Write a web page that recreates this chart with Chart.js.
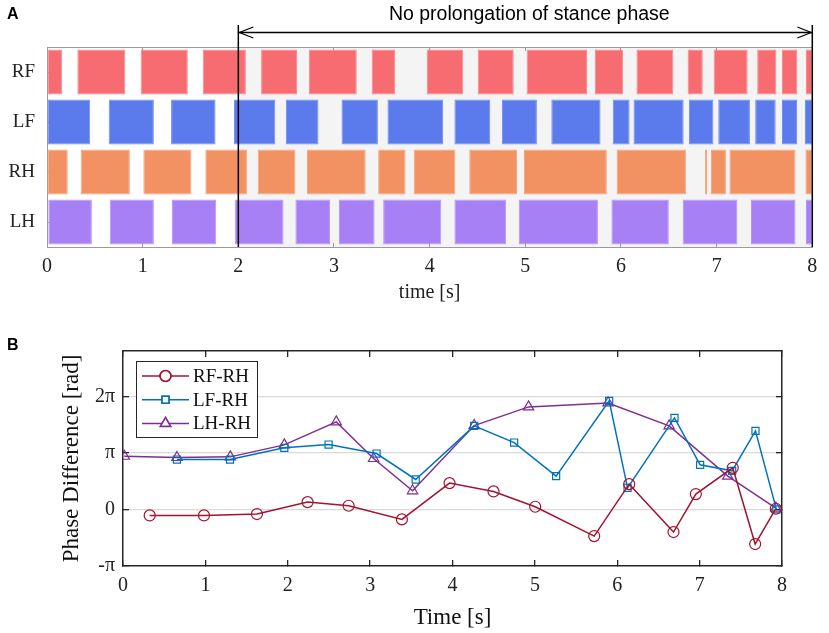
<!DOCTYPE html>
<html><head><meta charset="utf-8">
<script src="https://cdn.jsdelivr.net/npm/chart.js@4.4.0/dist/chart.umd.min.js"></script>
<style>
html,body{margin:0;padding:0;background:#fff;}
#wrap{position:relative;width:829px;height:633px;overflow:hidden;}
canvas{position:absolute;left:0;}
#c1{top:0;}
#c2{top:310px;}
</style></head><body>
<div id="wrap"><canvas id="c1" width="829" height="310"></canvas><canvas id="c2" width="829" height="323"></canvas></div>
<script>
// ---------- Panel A data: stance intervals [start, end] in seconds ----------
const legs = ['RF', 'LF', 'RH', 'LH'];
const RF_stance = [[0,0.159],[0.317,0.817],[0.979,1.472],[1.628,2.079],[2.238,2.614],[2.738,3.238],[3.393,3.641],[3.969,4.352],[4.503,4.879],[5.014,5.645],[5.728,6.021],[6.162,6.548],[6.697,6.855],[6.969,7.324],[7.424,7.624],[7.683,7.841],[7.934,8.0]];
const LF_stance = [[0,0.452],[0.645,1.117],[1.297,1.762],[1.955,2.386],[2.497,2.838],[3.079,3.459],[3.559,4.141],[4.259,4.634],[4.755,5.121],[5.272,5.786],[5.914,6.090],[6.131,6.655],[6.710,6.966],[7.017,7.348],[7.403,7.617],[7.683,7.841],[7.924,8.0]];
const RH_stance = [[0,0.217],[0.352,0.866],[1.007,1.510],[1.655,2.090],[2.203,2.597],[2.717,3.331],[3.462,3.748],[3.834,4.269],[4.414,4.914],[4.986,5.852],[5.955,6.679],[6.879,6.900],[6.941,7.097],[7.134,7.824],[7.928,8.0]];
const LH_stance = [[0.014,0.469],[0.655,1.117],[1.307,1.769],[1.962,2.472],[2.597,2.959],[3.052,3.424],[3.514,4.121],[4.259,4.800],[4.931,5.759],[5.900,6.500],[6.645,7.217],[7.359,7.824],[7.934,8.0]];
const noProlongStart = 2;
const noProlongEnd = 8;
const noProlongText = 'No prolongation of stance phase';

// ---------- Panel B data: phase differences (in units of pi) ----------
const seriesNames = ['RF-RH', 'LF-RH', 'LH-RH'];
const rfTime  = [0.324,0.983,1.626,2.241,2.739,3.386,3.964,4.498,5.004,5.720,6.145,6.683,6.954,7.402,7.674,7.925];
const rfPhase = [-0.106,-0.106,-0.082,0.129,0.065,-0.176,0.465,0.318,0.047,-0.471,0.447,-0.400,0.271,0.735,-0.612,0.012];
const lfTime  = [0.655,1.299,1.958,2.496,3.078,3.553,4.263,4.748,5.258,5.902,6.125,6.695,7.006,7.395,7.678,7.932];
const lfPhase = [0.882,0.882,1.088,1.147,0.988,0.529,1.476,1.182,0.588,1.918,0.382,1.618,0.788,0.682,1.388,0.0];
const lhTime  = [0.016,0.655,1.303,1.958,2.589,3.042,3.515,4.263,4.923,5.889,6.630,7.342,7.925];
const lhPhase = [0.940,0.918,0.929,1.141,1.547,0.900,0.329,1.482,1.812,1.882,1.476,0.588,0.024];
const phaseTickLabels = {'-1':'-π', '0':'0', '1':'π', '2':'2π'};

const SERIF = "'Liberation Serif', 'Times New Roman', serif";
const SANS = "'Liberation Sans', Arial, sans-serif";

// ---------- Panel A ----------
const legFill = {RF:'#f76c70', LF:'#5b7bed', RH:'#f29162', LH:'#a880f6'};
const legEdge = {RF:'#fa8a8d', LF:'#6f8cf5', RH:'#f7a47c', LH:'#b694fa'};
const stanceByLeg = {RF:RF_stance, LF:LF_stance, RH:RH_stance, LH:LH_stance};

const shadePlugin = {
  id: 'shade',
  beforeDraw(chart) {
    const {ctx, chartArea:a, scales:{x}} = chart;
    const x0 = x.getPixelForValue(noProlongStart), x1 = x.getPixelForValue(noProlongEnd);
    ctx.save();
    ctx.fillStyle = '#f4f4f4';
    ctx.fillRect(x0, a.top, x1 - x0, a.bottom - a.top);
    ctx.restore();
  },
  afterDraw(chart) {
    const {ctx, chartArea:a, scales:{x}} = chart;
    const x0 = x.getPixelForValue(noProlongStart), x1 = x.getPixelForValue(noProlongEnd);
    const yTop = 25, yArrow = 32.5;
    ctx.save();
    ctx.strokeStyle = '#000';
    ctx.lineWidth = 1.5;
    ctx.beginPath();
    ctx.moveTo(x0, yTop); ctx.lineTo(x0, a.bottom);
    ctx.moveTo(x1, yTop); ctx.lineTo(x1, a.bottom);
    ctx.moveTo(x0, yArrow); ctx.lineTo(x1, yArrow);
    ctx.stroke();
    ctx.lineWidth = 1.2;
    ctx.beginPath();
    ctx.moveTo(x0 + 15, yArrow - 5.5); ctx.lineTo(x0 + 1, yArrow); ctx.lineTo(x0 + 15, yArrow + 5.5);
    ctx.moveTo(x1 - 15, yArrow - 5.5); ctx.lineTo(x1 - 1, yArrow); ctx.lineTo(x1 - 15, yArrow + 5.5);
    ctx.stroke();
    ctx.fillStyle = '#000';
    ctx.font = '19.5px ' + SANS;
    ctx.textAlign = 'center';
    ctx.textBaseline = 'middle';
    ctx.fillText(noProlongText, (x0 + x1) / 2 + 4, 15);
    ctx.font = 'bold 16px ' + SANS;
    ctx.textAlign = 'left';
    ctx.fillText('A', 7, 15);
    ctx.restore();
  }
};

new Chart(document.getElementById('c1'), {
  type: 'bar',
  data: {
    labels: legs,
    datasets: legs.map(leg => ({
      label: leg,
      data: stanceByLeg[leg].map(([s, e]) => ({y: leg, x: [s, e]})),
      backgroundColor: legFill[leg],
      borderColor: legEdge[leg],
      borderWidth: 1,
      borderSkipped: false,
      grouped: false,
      barPercentage: 0.9,
      categoryPercentage: 1
    }))
  },
  options: {
    indexAxis: 'y',
    responsive: false,
    animation: false,
    layout: {padding: {left: 0, top: 47, right: 8, bottom: 3}},
    plugins: {legend: {display: false}, tooltip: {enabled: false}},
    scales: {
      x: {
        type: 'linear', position: 'bottom', min: 0, max: 8,
        ticks: {stepSize: 1, padding: 11.7, color: '#222', font: {family: SERIF, size: 20}},
        grid: {drawOnChartArea: false, drawTicks: true, tickLength: -4, tickColor: '#9a9a9a'},
        border: {color: '#9a9a9a', width: 1},
        title: {display: true, text: 'time [s]', color: '#222', font: {family: SERIF, size: 20}, padding: {top: 0, bottom: 2}},
        afterFit(s) { s.height = 60; }
      },
      x2: {
        type: 'linear', position: 'top', min: 0, max: 8,
        ticks: {display: false, stepSize: 1},
        grid: {drawOnChartArea: false, tickLength: -4, tickColor: '#9a9a9a'},
        border: {color: '#9a9a9a', width: 1},
        afterFit(s) { s.height = 0; }
      },
      y: {
        type: 'category', position: 'left', offset: true,
        ticks: {padding: 16, color: '#222', font: {family: SERIF, size: 19}},
        grid: {drawOnChartArea: false, offset: false, tickLength: -4, tickColor: '#9a9a9a'},
        border: {color: '#9a9a9a', width: 1},
        afterFit(s) { s.width = 47; }
      }
    }
  },
  plugins: [shadePlugin]
});

// ---------- Panel B ----------
const seriesColor = ['#a2142f', '#0072bd', '#7e2f8e'];
const seriesMarker = ['circle', 'rect', 'triangle'];
const seriesRadius = [5.5, 5, 6];
const seriesX = [rfTime, lfTime, lhTime];
const seriesY = [rfPhase, lfPhase, lhPhase];

const legendPlugin = {
  id: 'boxLegend',
  afterDraw(chart) {
    const {ctx, chartArea:a} = chart;
    const bx = a.left + 13, by = a.top + 10, bw = 121, bh = 76;
    ctx.save();
    ctx.fillStyle = '#fff';
    ctx.fillRect(bx, by, bw, bh);
    ctx.strokeStyle = '#262626';
    ctx.lineWidth = 1;
    ctx.strokeRect(bx + 0.5, by + 0.5, bw, bh);
    chart.data.datasets.forEach((ds, i) => {
      const yy = by + 15 + i * 23.7;
      ctx.strokeStyle = ds.borderColor;
      ctx.lineWidth = 1.5;
      ctx.beginPath();
      ctx.moveTo(bx + 6, yy); ctx.lineTo(bx + 53, yy);
      ctx.stroke();
      ctx.fillStyle = '#fff';
      Chart.helpers.drawPoint(ctx, {pointStyle: ds.pointStyle, radius: ds.pointRadius, rotation: 0, borderWidth: 1.2}, bx + 29.5, yy);
      ctx.lineWidth = 1.2;
      ctx.stroke();
      ctx.fillStyle = '#111';
      ctx.font = '19px ' + SERIF;
      ctx.textAlign = 'left';
      ctx.textBaseline = 'middle';
      ctx.fillText(ds.label, bx + 57, yy + 1);
    });
    ctx.fillStyle = '#000';
    ctx.font = 'bold 16px ' + SANS;
    ctx.textAlign = 'left';
    ctx.textBaseline = 'middle';
    ctx.fillText('B', 7, 36);
    ctx.restore();
  }
};

new Chart(document.getElementById('c2'), {
  type: 'line',
  data: {
    datasets: seriesNames.map((name, i) => ({
      label: name,
      data: seriesX[i].map((t, j) => ({x: t, y: seriesY[i][j]})),
      borderColor: seriesColor[i],
      borderWidth: 1.5,
      pointStyle: seriesMarker[i],
      pointRadius: seriesRadius[i],
      pointBorderColor: seriesColor[i],
      pointBackgroundColor: 'rgba(0,0,0,0)',
      pointBorderWidth: 1.2,
      tension: 0,
      fill: false
    }))
  },
  options: {
    responsive: false,
    animation: false,
    layout: {padding: {left: 0, top: 41, right: 47, bottom: 0}},
    plugins: {legend: {display: false}, tooltip: {enabled: false}},
    scales: {
      x: {
        type: 'linear', position: 'bottom', min: 0, max: 8,
        ticks: {stepSize: 1, padding: 14, color: '#222', font: {family: SERIF, size: 20}},
        grid: {drawOnChartArea: false, tickLength: -6, tickColor: '#262626', lineWidth: 1.3},
        border: {color: '#262626', width: 1.5},
        title: {display: true, text: 'Time [s]', color: '#111', font: {family: SERIF, size: 23}, padding: {top: 0, bottom: 1}},
        afterFit(s) { s.height = 67; }
      },
      x2: {
        type: 'linear', position: 'top', min: 0, max: 8,
        ticks: {display: false, stepSize: 1},
        grid: {drawOnChartArea: false, tickLength: -6, tickColor: '#262626', lineWidth: 1.3},
        border: {color: '#262626', width: 1.5},
        afterFit(s) { s.height = 0; }
      },
      y: {
        type: 'linear', position: 'left', min: -1, max: 2.8,
        ticks: {stepSize: 1, includeBounds: false, padding: 14, color: '#222', font: {family: SERIF, size: 20},
                callback: v => phaseTickLabels[String(v)] ?? ''},
        grid: {color: c => (c.tick && c.tick.value === -1) ? 'rgba(0,0,0,0)' : '#d9d9d9', lineWidth: 1.3, tickLength: -6, tickColor: '#262626'},
        border: {color: '#262626', width: 1.5},
        title: {display: true, text: 'Phase Difference [rad]', color: '#111', font: {family: SERIF, size: 23}, padding: {top: 58, bottom: 0}},
        afterFit(s) { s.width = 123; }
      },
      y2: {
        type: 'linear', position: 'right', min: -1, max: 2.8,
        ticks: {display: false, stepSize: 1, includeBounds: false},
        grid: {drawOnChartArea: false, tickLength: -6, tickColor: '#262626', lineWidth: 1.3},
        border: {color: '#262626', width: 1.5},
        afterFit(s) { s.width = 0; }
      }
    }
  },
  plugins: [legendPlugin]
});
</script>
</body></html>
